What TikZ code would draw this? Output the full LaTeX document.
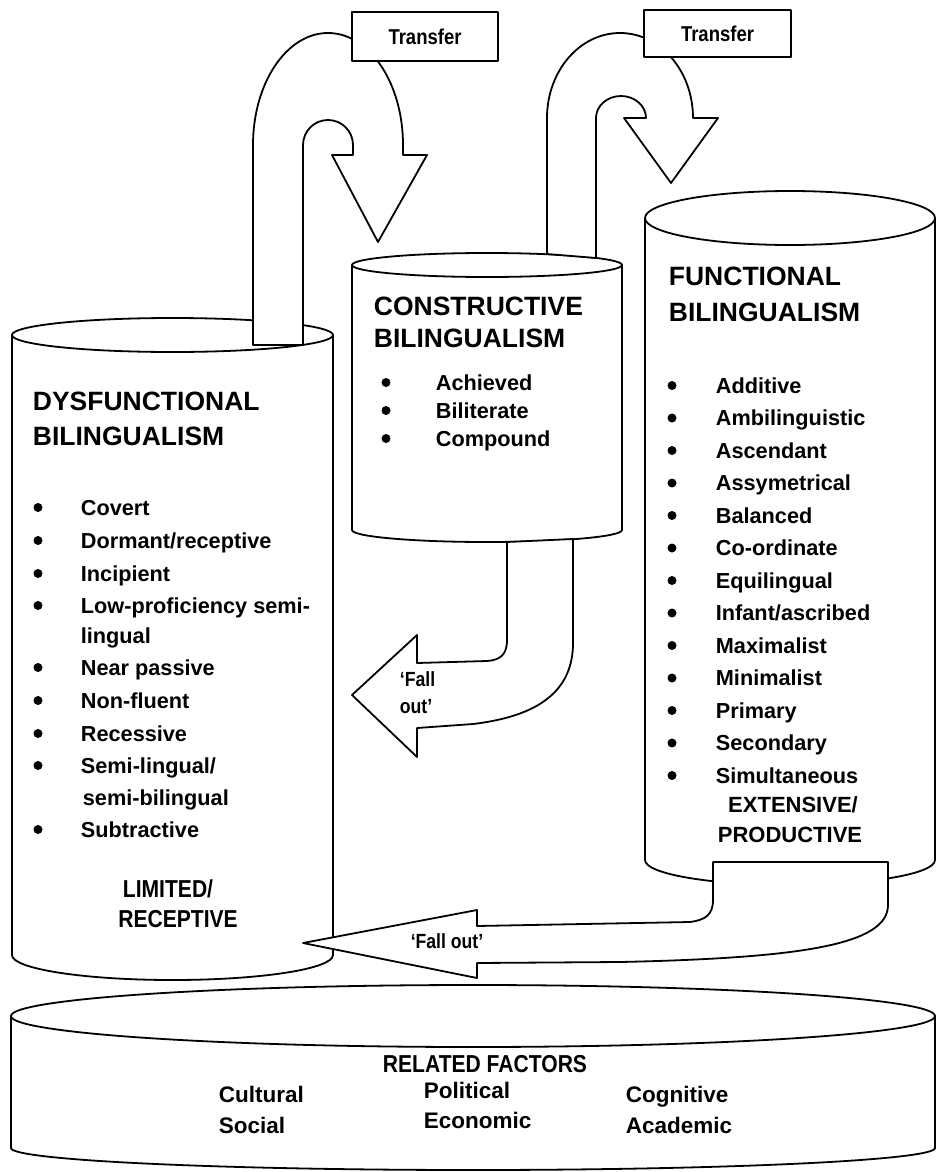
\documentclass[tikz,border=0pt]{standalone}
\usepackage{fontspec}
\setmainfont{Liberation Sans}
\newfontfamily\condf[FakeStretch=0.86]{Liberation Sans}
\newcommand\myfs[1]{\fontsize{#1}{#1}\selectfont}
\begin{document}
\begin{tikzpicture}[x=1pt,y=-1pt,line width=1.8pt,line join=round,
  shp/.style={draw=black,fill=white},
  ttl/.style={anchor=base west,inner sep=0pt,font=\bfseries\myfs{26.5}},
  itm/.style={anchor=base west,inner sep=0pt,font=\bfseries\myfs{21.7}},
  ctr/.style={anchor=base,inner sep=0pt,font=\bfseries\myfs{22}},
  cctr/.style={anchor=base,inner sep=0pt,font=\condf\bfseries\myfs{24.5}},
  fac/.style={anchor=base west,inner sep=0pt,font=\bfseries\myfs{22.5}},
  trbox/.style={draw=black,fill=white,inner sep=0pt,font=\condf\bfseries\myfs{21.5}},
  fall/.style={inner sep=0pt,font=\condf\bfseries\myfs{20.5}}]
\useasboundingbox (0,0) rectangle (938,1172);
\fill[white] (0,0) rectangle (938,1172);

% bottom cylinder
\fill[white] (11,1016) -- (11,1148) arc[start angle=180,end angle=0,x radius=462,y radius=22] -- (935,1016) -- cycle;
\draw (11,1016) -- (11,1148) arc[start angle=180,end angle=0,x radius=462,y radius=22] -- (935,1016);
\path[shp] (473,1016) ellipse[x radius=462,y radius=31];

% left cylinder
\fill[white] (12,335) -- (12,955) arc[start angle=180,end angle=0,x radius=160.5,y radius=25] -- (333,335) -- cycle;
\draw (12,335) -- (12,955) arc[start angle=180,end angle=0,x radius=160.5,y radius=25] -- (333,335);
\path[shp] (172.5,335) ellipse[x radius=160.5,y radius=17];

% middle cylinder
\fill[white] (352,265) -- (352,530) arc[start angle=180,end angle=0,x radius=135,y radius=12] -- (622,265) -- cycle;
\draw (352,265) -- (352,530) arc[start angle=180,end angle=0,x radius=135,y radius=12] -- (622,265);
\path[shp] (487,265) ellipse[x radius=135,y radius=12];

% right cylinder
\fill[white] (645,218) -- (645,860) arc[start angle=180,end angle=0,x radius=145,y radius=25] -- (935,218) -- cycle;
\draw (645,218) -- (645,860) arc[start angle=180,end angle=0,x radius=145,y radius=25] -- (935,218);
\path[shp] (790,218) ellipse[x radius=145,y radius=27];

% transfer arrow 1
\path[shp] (253,345) -- (253,145) arc[start angle=180,end angle=360,x radius=75,y radius=112]
  -- (403,155) -- (427,155) -- (378,242) -- (332,155) -- (353,155) -- (353,145)
  arc[start angle=0,end angle=-180,x radius=25,y radius=25] -- (303,345) -- cycle;
% transfer arrow 2
\path[shp] (547,254) -- (547,118) arc[start angle=180,end angle=360,x radius=73,y radius=85]
  -- (718,118) -- (671,183) -- (624,118) -- (646,118)
  arc[start angle=0,end angle=-180,x radius=25,y radius=22] -- (596,258) -- cycle;

\node[trbox,minimum width=146pt,minimum height=49pt] (tr1) at (425,36.5) {Transfer};
\node[trbox,minimum width=147pt,minimum height=47pt] (tr2) at (717.5,33.5) {Transfer};

% fall out arrow from middle cylinder
\path[shp] (507,542) -- (507,640) .. controls (507,655) and (500,660) .. (487,661) -- (417,663)
  -- (417,635) -- (352,695) -- (417,757) -- (417,728) -- (473,724)
  .. controls (540,716) and (573,690) .. (573,643) -- (573,539) -- cycle;
% fall out arrow from right cylinder
\path[shp] (713,862) -- (888,862) -- (888,905) .. controls (888,945) and (800,958) .. (620,962)
  -- (477,963) -- (477,978) -- (303,943) -- (477,910) -- (477,926) -- (690,922)
  .. controls (705,920) and (713,915) .. (713,900) -- cycle;

\node[fall,anchor=base west] (fo1a) at (399,686) {‘Fall};
\node[fall,anchor=base west] (fo1b) at (399,713) {out’};
\node[fall,anchor=base] (fo2) at (447,948) {‘Fall out’};

% Dysfunctional
\node[ttl] (dt1) at (32,410) {DYSFUNCTIONAL};
\node[ttl] (dt2) at (32,445) {BILINGUALISM};
\foreach \yy in {515,548,581,613,675,708,741,773,837} \fill (38,\yy-7.5) circle[radius=4.5];
\node[itm] (d1) at (80,515) {Covert};
\node[itm] (d2) at (80,548) {Dormant/receptive};
\node[itm] (d3) at (80,581) {Incipient};
\node[itm] (d4) at (80,613) {Low-proficiency semi-};
\node[itm] (d4b) at (80,643) {lingual};
\node[itm] (d5) at (80,675) {Near passive};
\node[itm] (d6) at (80,708) {Non-fluent};
\node[itm] (d7) at (80,741) {Recessive};
\node[itm] (d8) at (80,773) {Semi-lingual/};
\node[itm] (d8b) at (82,805) {semi-bilingual};
\node[itm] (d9) at (80,837) {Subtractive};
\node[cctr] (dl1) at (168,897) {LIMITED/};
\node[cctr] (dl2) at (178,927) {RECEPTIVE};

% Constructive
\node[ttl] (ct1) at (373,315) {CONSTRUCTIVE};
\node[ttl] (ct2) at (373,347) {BILINGUALISM};
\foreach \yy in {390,418,446} \fill (386,\yy-7.5) circle[radius=4.5];
\node[itm] (c1) at (435,390) {Achieved};
\node[itm] (c2) at (435,418) {Biliterate};
\node[itm] (c3) at (435,446) {Compound};

% Functional
\node[ttl] (ft1) at (668,285) {FUNCTIONAL};
\node[ttl] (ft2) at (668,321) {BILINGUALISM};
\foreach \k in {0,...,12} \fill (672,393+32.5*\k-7.5) circle[radius=4.5];
\node[itm] (f1) at (715,393) {Additive};
\node[itm] (f2) at (715,425.5) {Ambilinguistic};
\node[itm] (f3) at (715,458) {Ascendant};
\node[itm] (f4) at (715,490.5) {Assymetrical};
\node[itm] (f5) at (715,523) {Balanced};
\node[itm] (f6) at (715,555.5) {Co-ordinate};
\node[itm] (f7) at (715,588) {Equilingual};
\node[itm] (f8) at (715,620.5) {Infant/ascribed};
\node[itm] (f9) at (715,653) {Maximalist};
\node[itm] (f10) at (715,685.5) {Minimalist};
\node[itm] (f11) at (715,718) {Primary};
\node[itm] (f12) at (715,750.5) {Secondary};
\node[itm] (f13) at (715,783) {Simultaneous};
\node[ctr] (fe1) at (793,812) {EXTENSIVE/};
\node[ctr] (fe2) at (790,842) {PRODUCTIVE};

% Related factors
\node[cctr] (rf) at (485,1072) {RELATED FACTORS};
\node[fac] (r1) at (218,1102) {Cultural};
\node[fac] (r2) at (218,1133) {Social};
\node[fac] (r3) at (423,1098) {Political};
\node[fac] (r4) at (423,1128) {Economic};
\node[fac] (r5) at (625,1102) {Cognitive};
\node[fac] (r6) at (625,1133) {Academic};
\end{tikzpicture}
\end{document}
